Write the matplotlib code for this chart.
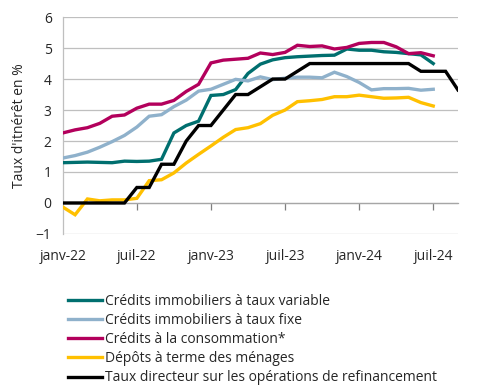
import matplotlib
matplotlib.use("Agg")
import matplotlib.pyplot as plt

plt.rcParams['font.family'] = ['Open Sans', 'DejaVu Sans']

month_idx = list(range(33))  # janv-22 .. sept-24
tick_pos = [0, 6, 12, 18, 24, 30]
tick_labels = ["janv-22", "juil-22", "janv-23", "juil-23", "janv-24", "juil-24"]

taux_variable = [1.30, 1.31, 1.32, 1.31, 1.30, 1.35, 1.34, 1.35, 1.41, 2.26, 2.50, 2.64,
                 3.47, 3.50, 3.66, 4.18, 4.48, 4.62, 4.69, 4.72, 4.74, 4.76, 4.77, 4.97,
                 4.93, 4.93, 4.88, 4.86, 4.82, 4.78, 4.50]
taux_fixe = [1.45, 1.53, 1.64, 1.80, 1.98, 2.18, 2.45, 2.80, 2.85, 3.11, 3.32, 3.61,
             3.67, 3.83, 3.99, 3.94, 4.07, 3.98, 4.03, 4.06, 4.06, 4.04, 4.22, 4.08,
             3.89, 3.65, 3.69, 3.69, 3.70, 3.64, 3.67]
consommation = [2.26, 2.36, 2.43, 2.57, 2.80, 2.84, 3.06, 3.19, 3.19, 3.31, 3.60, 3.83,
                4.52, 4.61, 4.64, 4.67, 4.84, 4.79, 4.86, 5.09, 5.05, 5.07, 4.97, 5.02,
                5.15, 5.18, 5.18, 5.04, 4.82, 4.85, 4.75]
depots = [-0.13, -0.38, 0.13, 0.07, 0.10, 0.10, 0.15, 0.72, 0.75, 0.97, 1.29, 1.57,
          1.84, 2.12, 2.37, 2.43, 2.56, 2.83, 3.00, 3.27, 3.30, 3.34, 3.43, 3.43,
          3.48, 3.43, 3.38, 3.39, 3.41, 3.24, 3.13]
taux_directeur = [0, 0, 0, 0, 0, 0, 0.5, 0.5, 1.25, 1.25, 2.0, 2.5, 2.5, 3.0, 3.5, 3.5,
                  3.75, 4.0, 4.0, 4.25, 4.5, 4.5, 4.5, 4.5, 4.5, 4.5, 4.5, 4.5, 4.5,
                  4.25, 4.25, 4.25, 3.65]

series = [
    ("Crédits immobiliers à taux variable", taux_variable, "#006f6f"),
    ("Crédits immobiliers à taux fixe", taux_fixe, "#8fb1cb"),
    ("Crédits à la consommation*", consommation, "#b3005c"),
    ("Dépôts à terme des ménages", depots, "#ffc000"),
    ("Taux directeur sur les opérations de refinancement", taux_directeur, "#000000"),
]

grid_c = "#bfbfbf"
text_c = "#262626"

fig = plt.figure(figsize=(4.94, 3.88), dpi=100)
ax = fig.add_axes([0.127, 0.397, 0.800, 0.559])

lines = []
for label, vals, col in series:
    ln, = ax.plot(month_idx[:len(vals)], vals, color=col, lw=2.4, label=label,
                  solid_joinstyle='miter', zorder=3)
    lines.append(ln)

ax.set_xlim(0, 32)
ax.set_ylim(-1, 6)
ax.set_yticks(range(-1, 7))
ax.yaxis.grid(True, color=grid_c, lw=0.9)
ax.set_axisbelow(True)

for s in ['top', 'right']:
    ax.spines[s].set_visible(False)
ax.spines['left'].set_color(grid_c)
ax.spines['left'].set_linewidth(0.9)
ax.spines['bottom'].set_position(('data', 0))
ax.spines['bottom'].set_color("#a6a6a6")
ax.spines['bottom'].set_linewidth(0.9)

ax.set_xticks(tick_pos[1:])
ax.tick_params(axis='x', length=5, width=0.9, color="#7f7f7f", labelbottom=False)
ax.tick_params(axis='y', length=0, pad=8, labelsize=10, labelcolor=text_c)

sec = ax.secondary_xaxis('bottom')
sec.set_xticks(tick_pos, tick_labels)
sec.tick_params(length=0, pad=11, labelsize=10, labelcolor=text_c)
sec.spines['bottom'].set_visible(False)

ax.set_ylabel("Taux d'itnérêt en %", fontsize=10, color=text_c, labelpad=6)

fig.legend(handles=lines, loc='upper left', bbox_to_anchor=(0.137, 0.243),
           frameon=False, fontsize=10, handlelength=2.5, handletextpad=0.22,
           labelspacing=0.3, borderpad=0, borderaxespad=0, labelcolor=text_c)

fig.savefig("out.png", dpi=100)
